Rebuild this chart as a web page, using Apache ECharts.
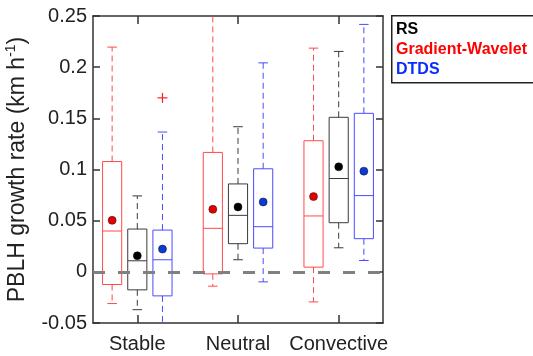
<!DOCTYPE html>
<html>
<head>
<meta charset="utf-8">
<script src="https://cdn.jsdelivr.net/npm/echarts@6/dist/echarts.min.js"></script>
<style>
  html, body { margin: 0; padding: 0; background: #fff; }
  #chart { width: 533px; height: 356px; }
</style>
</head>
<body>
<div id="chart"></div>
<script>
(function () {
    // boxes are [lower whisker, q1, median, q3, upper whisker]
    var categories = ['Stable', 'Neutral', 'Convective'];
    var gwBox = [
        [-0.031, -0.0124, 0.0399, 0.1078, 0.2196],
        [-0.014, -0.002, 0.0425, 0.1167, 0.27],
        [-0.0294, 0.0046, 0.0546, 0.1281, 0.2186]
    ];
    var rsBox = [
        [-0.037, -0.0176, 0.0108, 0.0418, 0.0742],
        [0.0118, 0.0275, 0.0552, 0.0859, 0.1418],
        [0.0235, 0.048, 0.0912, 0.151, 0.2154]
    ];
    var dtdsBox = [
        [-0.06, -0.0235, 0.0118, 0.0408, 0.1366],
        [-0.0098, 0.0232, 0.0441, 0.1007, 0.2042],
        [0.0111, 0.0324, 0.0745, 0.1549, 0.2418]
    ];
    var gwMean = [0.0503, 0.0611, 0.0735];
    var rsMean = [0.0157, 0.0634, 0.1026];
    var dtdsMean = [0.0222, 0.0683, 0.0984];
    // [category index, value]
    var dtdsOutliers = [[0, 0.170]];
    var yTicks = [-0.05, 0, 0.05, 0.1, 0.15, 0.2, 0.25];

    var FONT = 'Liberation Sans, Arial, sans-serif';
    var BOX_W = 0.19;
    var RED = '#ff4a4a', RED_DOT = '#e80000';
    var BLK = '#3a3a3a', BLK_DOT = '#000000';
    var BLU = '#4a4aff', BLU_DOT = '#0a3ad8';

    var myChart = echarts.init(document.getElementById('chart'));

    function boxSeries(name, boxes, offset, color) {
        return {
            type: 'custom',
            name: name,
            data: boxes.map(function (b, i) { return [i + 1 + offset].concat(b); }),
            encode: { x: 0, y: [1, 2, 3, 4, 5] },
            renderItem: function (params, api) {
                var cs = params.coordSys;
                var top = cs.y, bot = cs.y + cs.height;
                function cy(v) { return api.coord([api.value(0), v])[1]; }
                function clamp(y) { return Math.max(top, Math.min(bot, y)); }
                var cx = api.coord([api.value(0), 0])[0];
                var hw = api.size([BOX_W, 0])[0] / 2;
                var capHw = hw * 0.5;
                var yLo = cy(api.value(1)), yQ1 = cy(api.value(2)), yMed = cy(api.value(3));
                var yQ3 = cy(api.value(4)), yHi = cy(api.value(5));
                var solid = { stroke: color, lineWidth: 1, fill: null };
                var dashed = { stroke: color, lineWidth: 1, lineDash: [6, 4] };
                var kids = [
                    { type: 'line', shape: { x1: cx, y1: yQ3, x2: cx, y2: clamp(yHi) }, style: dashed },
                    { type: 'line', shape: { x1: cx, y1: yQ1, x2: cx, y2: clamp(yLo) }, style: dashed },
                    { type: 'rect', shape: { x: cx - hw, y: yQ3, width: hw * 2, height: yQ1 - yQ3 }, style: solid },
                    { type: 'line', shape: { x1: cx - hw, y1: yMed, x2: cx + hw, y2: yMed }, style: solid }
                ];
                if (yHi >= top) kids.push({ type: 'line', shape: { x1: cx - capHw, y1: yHi, x2: cx + capHw, y2: yHi }, style: solid });
                if (yLo <= bot) kids.push({ type: 'line', shape: { x1: cx - capHw, y1: yLo, x2: cx + capHw, y2: yLo }, style: solid });
                return { type: 'group', children: kids };
            },
            z: 3
        };
    }

    function meanSeries(means, offset, color) {
        return {
            type: 'scatter',
            data: means.map(function (m, i) { return [i + 1 + offset, m]; }),
            symbol: 'circle',
            symbolSize: 8,
            itemStyle: { color: color, borderColor: '#111', borderWidth: 0.5, opacity: 1 },
            z: 5
        };
    }

    var option = {
        animation: false,
        grid: { left: 93, right: 150, top: 16, bottom: 33, containLabel: false, outerBoundsMode: 'none' },
        xAxis: [{
            type: 'value', min: 0.56, max: 3.44, position: 'bottom',
            axisLine: { show: true, onZero: false, lineStyle: { color: '#333', width: 1.5 } },
            axisTick: { show: true, inside: true, length: 8, customValues: [1, 2, 3], lineStyle: { color: '#333', width: 1.5 } },
            axisLabel: {
                show: true, customValues: [1, 2, 3], margin: 11,
                formatter: function (v) { return categories[Math.round(v) - 1]; },
                color: '#222', fontSize: 20, fontFamily: FONT
            },
            splitLine: { show: false }
        }, {
            type: 'value', min: 0.56, max: 3.44, position: 'top',
            axisLine: { show: true, onZero: false, lineStyle: { color: '#333', width: 1.5 } },
            axisTick: { show: true, inside: true, length: 8, customValues: [1, 2, 3], lineStyle: { color: '#333', width: 1.5 } },
            axisLabel: { show: false },
            splitLine: { show: false }
        }],
        yAxis: [{
            type: 'value', min: -0.05, max: 0.25, interval: 0.05, position: 'left',
            name: 'PBLH growth rate (km h{sup|-1})',
            nameLocation: 'middle', nameGap: 44,
            nameTextStyle: {
                fontSize: 23, fontFamily: FONT, color: '#222', lineHeight: 26,
                rich: { sup: { fontSize: 14, fontFamily: FONT, color: '#222', verticalAlign: 'top', lineHeight: 15 } }
            },
            axisLine: { show: true, onZero: false, lineStyle: { color: '#333', width: 1.5 } },
            axisTick: { show: true, inside: true, length: 7, lineStyle: { color: '#333', width: 1.5 } },
            axisLabel: {
                margin: 6, color: '#222', fontSize: 20, fontFamily: FONT,
                formatter: function (v) {
                    for (var i = 0; i < yTicks.length; i++) {
                        if (Math.abs(yTicks[i] - v) < 1e-9) return String(yTicks[i]);
                    }
                    return '';
                }
            },
            splitLine: { show: false }
        }, {
            type: 'value', min: -0.05, max: 0.25, interval: 0.05, position: 'right',
            axisLine: { show: true, onZero: false, lineStyle: { color: '#333', width: 1.5 } },
            axisTick: { show: true, inside: true, length: 7, lineStyle: { color: '#333', width: 1.5 } },
            axisLabel: { show: false },
            splitLine: { show: false }
        }],
        graphic: [
            { type: 'rect', left: 391, top: 15, shape: { width: 160, height: 67 },
              style: { fill: '#fff', stroke: '#222', lineWidth: 1.5 }, z: 10 },
            { type: 'text', left: 396, top: 22, style: { text: 'RS', fill: '#000', font: 'bold 16px ' + FONT }, z: 11 },
            { type: 'text', left: 396, top: 42, style: { text: 'Gradient-Wavelet', fill: '#ff0000', font: 'bold 16px ' + FONT }, z: 11 },
            { type: 'text', left: 396, top: 62, style: { text: 'DTDS', fill: '#0a2cff', font: 'bold 16px ' + FONT }, z: 11 }
        ],
        series: [
            {
                type: 'line', data: [], silent: true,
                markLine: {
                    silent: true, symbol: ['none', 'none'], label: { show: false },
                    emphasis: { disabled: true },
                    lineStyle: { color: '#808080', width: 3, type: [12, 13], opacity: 1 },
                    data: [{ yAxis: 0 }]
                },
                z: 2
            },
            boxSeries('Gradient-Wavelet', gwBox, -0.25, RED),
            boxSeries('RS', rsBox, 0, BLK),
            boxSeries('DTDS', dtdsBox, 0.25, BLU),
            meanSeries(gwMean, -0.25, RED_DOT),
            meanSeries(rsMean, 0, BLK_DOT),
            meanSeries(dtdsMean, 0.25, BLU_DOT),
            {
                type: 'custom',
                data: dtdsOutliers.map(function (o) { return [o[0] + 1 + 0.25, o[1]]; }),
                encode: { x: 0, y: 1 },
                renderItem: function (params, api) {
                    var p = api.coord([api.value(0), api.value(1)]);
                    var s = 5;
                    var st = { stroke: '#ff2020', lineWidth: 1.2 };
                    return { type: 'group', children: [
                        { type: 'line', shape: { x1: p[0] - s, y1: p[1], x2: p[0] + s, y2: p[1] }, style: st },
                        { type: 'line', shape: { x1: p[0], y1: p[1] - s, x2: p[0], y2: p[1] + s }, style: st }
                    ] };
                },
                z: 4
            }
        ]
    };

    myChart.setOption(option);
    window.addEventListener('resize', function () {
        myChart.resize();
    });
})();
</script>
</body>
</html>
